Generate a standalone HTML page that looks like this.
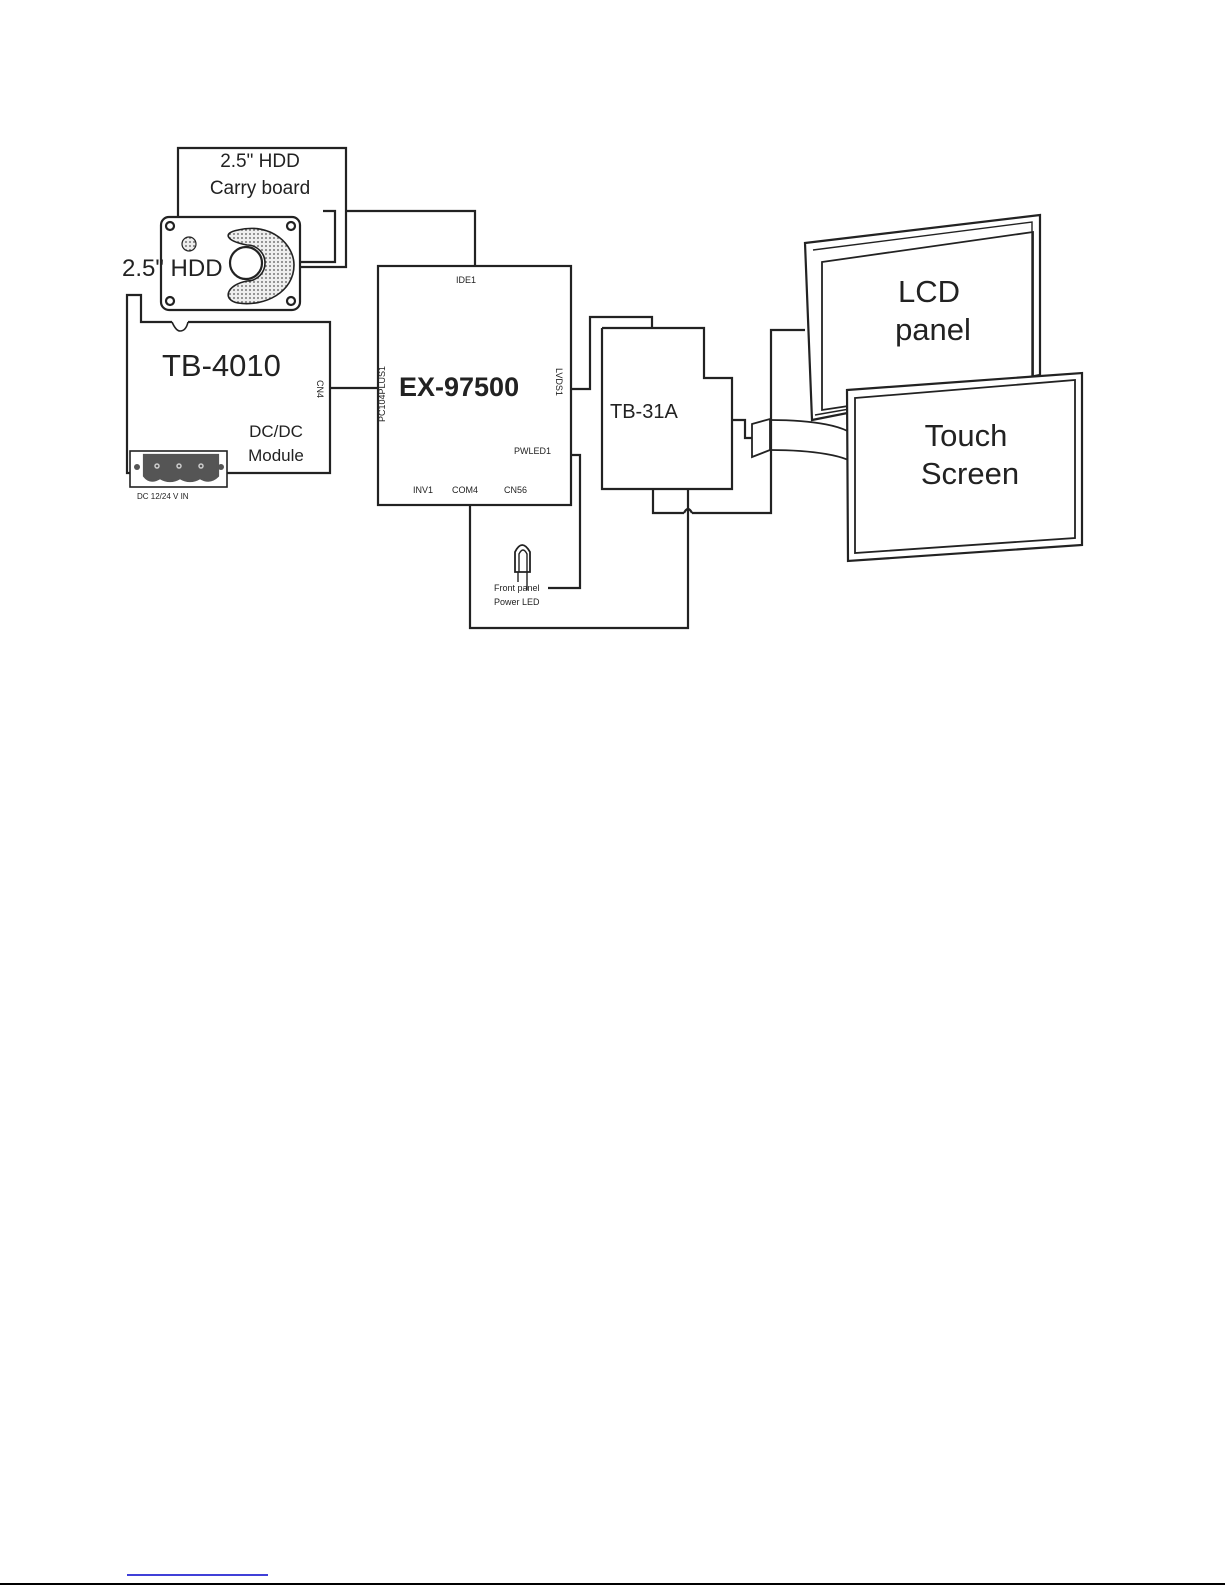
<!DOCTYPE html>
<html><head><meta charset="utf-8"><style>
html,body{margin:0;padding:0;background:#fff;}
svg{display:block}
text{font-family:"Liberation Sans",sans-serif;fill:#222}
</style></head><body>
<svg width="1225" height="1585" viewBox="0 0 1225 1585" xmlns="http://www.w3.org/2000/svg">
<defs>
<pattern id="dots" width="4" height="4" patternUnits="userSpaceOnUse"><rect width="4" height="4" fill="#eee"/><circle cx="2" cy="2" r="0.9" fill="#555"/></pattern>
</defs>
<g fill="none" stroke="#222" stroke-width="2.2">
<polyline points="178,218 178,148 346,148 346,267 300,267"/>
<polyline points="323,211 335,211 335,262 300,262"/>
<polyline points="346,211 475,211 475,266"/>
<rect x="161" y="217" width="139" height="93" rx="8" fill="#fff"/>
<circle cx="170" cy="226" r="4"/><circle cx="291" cy="226" r="4"/><circle cx="170" cy="301" r="4"/><circle cx="291" cy="301" r="4"/>
<path d="M238,230 C272,222 294,245 294,265 C294,292 265,307 238,303 C222,300 226,285 247,281 A18,18 0 0 0 247,245 C226,241 222,233 238,230 Z" fill="url(#dots)" stroke-width="1.6"/>
<circle cx="246" cy="263" r="16" fill="#fff"/>
<circle cx="189" cy="244" r="7" fill="url(#dots)" stroke-width="1.2"/>
<polyline points="300,322 330,322 330,473 227,473"/>
<polyline points="172,322 141,322 141,295 127,295 127,473 130,473"/>
<path d="M172,322 Q176,331 180,331 Q186,331 188,322" stroke-width="1.6"/>
<line x1="188" y1="322" x2="300" y2="322"/>
<rect x="130" y="451" width="97" height="36" stroke-width="1.6"/>
<path d="M144,455 L218,455 L218,476 Q210,484 200,478 Q190,484 180,478 Q170,484 160,478 Q150,484 144,476 Z" fill="#555" stroke="#555"/>
<circle cx="137" cy="467" r="3" fill="#555" stroke="none"/><circle cx="221" cy="467" r="3" fill="#555" stroke="none"/>
<g stroke="#ccc" stroke-width="1.5"><circle cx="157" cy="466" r="2"/><circle cx="179" cy="466" r="2"/><circle cx="201" cy="466" r="2"/></g>
<line x1="330" y1="388" x2="378" y2="388"/>
<rect x="378" y="266" width="193" height="239"/>
<polyline points="571,389 590,389 590,317 652,317 652,328"/>
<polyline points="571,455 580,455 580,588 548,588"/>
<polyline points="602,328 704,328 704,378 732,378 732,489 602,489 602,328"/>
<polyline points="653,489 653,513 684,513"/>
<path d="M684,513 Q688,505 692,513"/>
<polyline points="692,513 771,513 771,330 805,330"/>
<polyline points="688,489 688,628 470,628 470,505"/>
<path d="M515,572 L515,552 Q522,538 530,552 L530,572 Z" stroke-width="1.8"/>
<path d="M519,572 L519,554 Q523,546 527,554 L527,590" stroke-width="1.4"/>
<line x1="518" y1="572" x2="518" y2="582" stroke-width="1.4"/>
<polyline points="732,420 745,420 745,438 752,438"/>
<path d="M752,424 L770,419 L770,450 L752,457 Z" stroke-width="1.8"/>
<path d="M770,420 C810,420 850,425 858,440" stroke-width="1.8"/>
<path d="M770,450 C810,450 850,455 858,467" stroke-width="1.8"/>
<path d="M805,243 L1040,215 L1040,375 L812,420 Z" fill="#fff"/>
<path d="M813,250 L1032,222 L1032,377 L815,415" stroke-width="1.4"/>
<path d="M822,262 L1033,232 L1033,378 L822,410 Z" stroke-width="1.8"/>
<path d="M847,390 L1082,373 L1082,545 L848,561 Z" fill="#fff"/>
<path d="M855,398 L1075,380 L1075,538 L855,553 Z" stroke-width="1.8"/>
</g>
<line x1="127" y1="1575" x2="268" y2="1575" stroke="#00c" stroke-width="1.5"/>
<line x1="0" y1="1584" x2="1225" y2="1584" stroke="#000" stroke-width="2"/>
<text x="260" y="167" font-size="19" text-anchor="middle">2.5" HDD</text>
<text x="260" y="194" font-size="19" text-anchor="middle">Carry board</text>
<text x="122" y="276" font-size="24">2.5" HDD</text>
<text x="162" y="376" font-size="31">TB-4010</text>
<text x="276" y="437" font-size="17" text-anchor="middle">DC/DC</text>
<text x="276" y="461" font-size="17" text-anchor="middle">Module</text>
<text x="137" y="499" font-size="8">DC 12/24 V IN</text>
<text x="399" y="396" font-size="27" font-weight="bold">EX-97500</text>
<text x="456" y="283" font-size="9">IDE1</text>
<text x="413" y="493" font-size="9">INV1</text>
<text x="452" y="493" font-size="9">COM4</text>
<text x="504" y="493" font-size="9">CN56</text>
<text x="514" y="454" font-size="9">PWLED1</text>
<text transform="translate(317,380) rotate(90)" font-size="9">CN4</text>
<text transform="translate(385,422) rotate(-90)" font-size="9">PC104PLUS1</text>
<text transform="translate(556,368) rotate(90)" font-size="9">LVDS1</text>
<text x="494" y="591" font-size="9">Front panel</text>
<text x="494" y="605" font-size="9">Power LED</text>
<text x="610" y="418" font-size="20">TB-31A</text>
<text x="929" y="302" font-size="31" text-anchor="middle">LCD</text>
<text x="933" y="340" font-size="31" text-anchor="middle">panel</text>
<text x="966" y="446" font-size="31" text-anchor="middle">Touch</text>
<text x="970" y="484" font-size="31" text-anchor="middle">Screen</text>
</svg>
</body></html>
